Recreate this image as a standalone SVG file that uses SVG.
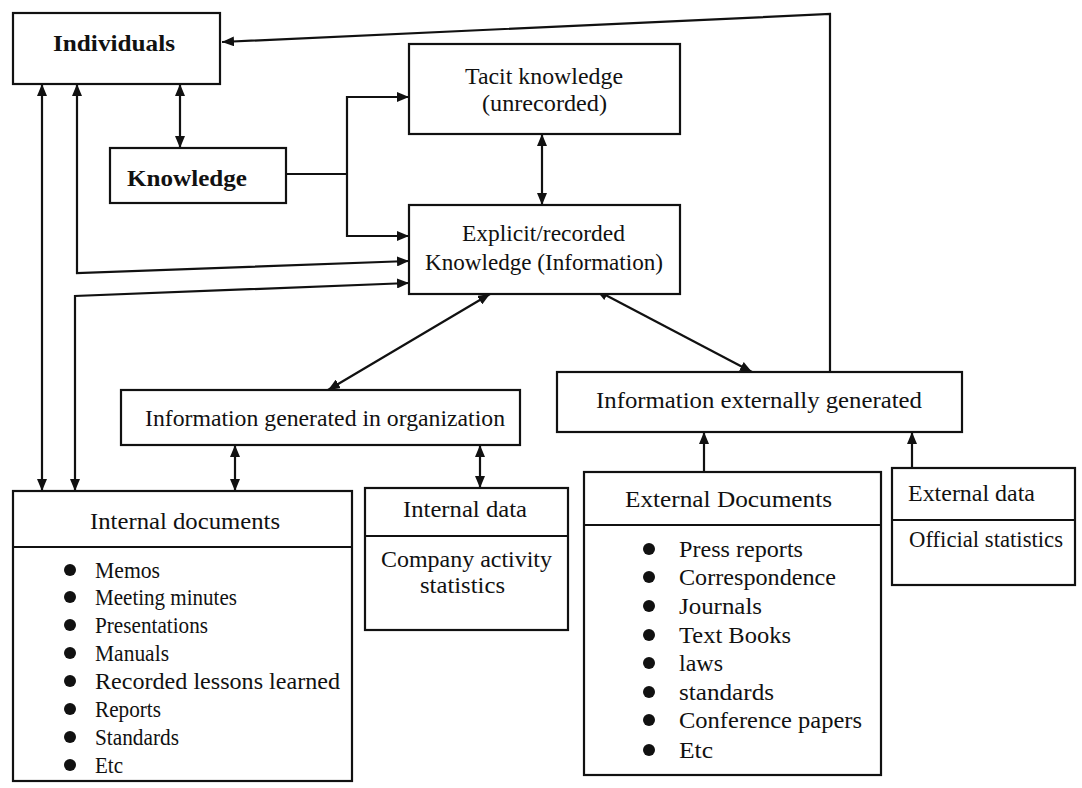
<svg xmlns="http://www.w3.org/2000/svg" width="1082" height="788" viewBox="0 0 1082 788">
<style>
.box{fill:#fff;stroke:#111;stroke-width:2.2}
.ln{fill:none;stroke:#111;stroke-width:2.2}
text{font-family:"Liberation Serif","DejaVu Serif",serif;font-size:23px;fill:#111}
.b{font-weight:bold}
.dot{fill:#111}
</style>
<defs>
<marker id="ah" viewBox="0 0 12 10" refX="12" refY="5" markerWidth="12" markerHeight="10" markerUnits="userSpaceOnUse" orient="auto-start-reverse">
<path d="M0,0 L12,5 L0,10 z" fill="#111"/>
</marker>
</defs>
<rect width="1082" height="788" fill="#fff"/>
<g id="connectors">
<path class="ln" d="M830,372 V14 L222,42" marker-end="url(#ah)"/>
<path class="ln" d="M180,84 V148" marker-start="url(#ah)" marker-end="url(#ah)"/>
<path class="ln" d="M542,134 V205" marker-start="url(#ah)" marker-end="url(#ah)"/>
<path class="ln" d="M286,174 H347"/>
<path class="ln" d="M409,97 H347 V236 H409" marker-start="url(#ah)" marker-end="url(#ah)"/>
<path class="ln" d="M42,84 V491" marker-start="url(#ah)" marker-end="url(#ah)"/>
<path class="ln" d="M77,84 V273 L409,261" marker-start="url(#ah)" marker-end="url(#ah)"/>
<path class="ln" d="M75,491 V296 L409,283" marker-start="url(#ah)" marker-end="url(#ah)"/>
<path class="ln" d="M490,294 L328,390" marker-start="url(#ah)" marker-end="url(#ah)"/>
<path class="ln" d="M596,290 L752,372" marker-start="url(#ah)" marker-end="url(#ah)"/>
<path class="ln" d="M235,445 V491" marker-start="url(#ah)" marker-end="url(#ah)"/>
<path class="ln" d="M480,445 V488" marker-start="url(#ah)" marker-end="url(#ah)"/>
<path class="ln" d="M704,472 V432" marker-end="url(#ah)"/>
<path class="ln" d="M912,468 V432" marker-end="url(#ah)"/>
</g>
<g id="individuals">
<rect class="box" x="13" y="13" width="207" height="71"/>
<text class="b" x="53" y="51" textLength="122" lengthAdjust="spacingAndGlyphs">Individuals</text>
</g>
<g id="knowledge">
<rect class="box" x="110" y="148" width="176" height="55"/>
<text class="b" x="127" y="186" textLength="120" lengthAdjust="spacingAndGlyphs">Knowledge</text>
</g>
<g id="tacit">
<rect class="box" x="409" y="44" width="271" height="90"/>
<text x="465" y="84" textLength="158" lengthAdjust="spacingAndGlyphs">Tacit knowledge</text>
<text x="482" y="111" textLength="125" lengthAdjust="spacingAndGlyphs">(unrecorded)</text>
</g>
<g id="explicit">
<rect class="box" x="409" y="205" width="271" height="89"/>
<text x="462" y="241" textLength="163" lengthAdjust="spacingAndGlyphs">Explicit/recorded</text>
<text x="425" y="270" textLength="238" lengthAdjust="spacingAndGlyphs">Knowledge (Information)</text>
</g>
<g id="info-org">
<rect class="box" x="121" y="390" width="399" height="55"/>
<text x="145" y="426" textLength="360" lengthAdjust="spacingAndGlyphs">Information generated in organization</text>
</g>
<g id="info-ext">
<rect class="box" x="557" y="372" width="405" height="60"/>
<text x="596" y="408" textLength="326" lengthAdjust="spacingAndGlyphs">Information externally generated</text>
</g>
<g id="internal-docs">
<rect class="box" x="13" y="491" width="339" height="290"/>
<line class="ln" x1="13" y1="547" x2="352" y2="547"/>
<text x="90" y="529" textLength="190" lengthAdjust="spacingAndGlyphs">Internal documents</text>
<circle class="dot" cx="70" cy="570" r="6"/><text x="95" y="578" textLength="65" lengthAdjust="spacingAndGlyphs">Memos</text>
<circle class="dot" cx="70" cy="597" r="6"/><text x="95" y="605" textLength="142" lengthAdjust="spacingAndGlyphs">Meeting minutes</text>
<circle class="dot" cx="70" cy="625" r="6"/><text x="95" y="633" textLength="113" lengthAdjust="spacingAndGlyphs">Presentations</text>
<circle class="dot" cx="70" cy="653" r="6"/><text x="95" y="661" textLength="74" lengthAdjust="spacingAndGlyphs">Manuals</text>
<circle class="dot" cx="70" cy="681" r="6"/><text x="95" y="689" textLength="245" lengthAdjust="spacingAndGlyphs">Recorded lessons learned</text>
<circle class="dot" cx="70" cy="709" r="6"/><text x="95" y="717" textLength="66" lengthAdjust="spacingAndGlyphs">Reports</text>
<circle class="dot" cx="70" cy="737" r="6"/><text x="95" y="745" textLength="84" lengthAdjust="spacingAndGlyphs">Standards</text>
<circle class="dot" cx="70" cy="765" r="6"/><text x="95" y="773" textLength="28" lengthAdjust="spacingAndGlyphs">Etc</text>
</g>
<g id="internal-data">
<rect class="box" x="365" y="488" width="203" height="142"/>
<line class="ln" x1="365" y1="536" x2="568" y2="536"/>
<text x="403" y="517" textLength="124" lengthAdjust="spacingAndGlyphs">Internal data</text>
<text x="381" y="567" textLength="171" lengthAdjust="spacingAndGlyphs">Company activity</text>
<text x="420" y="593" textLength="85" lengthAdjust="spacingAndGlyphs">statistics</text>
</g>
<g id="external-docs">
<rect class="box" x="584" y="472" width="297" height="303"/>
<line class="ln" x1="584" y1="525" x2="881" y2="525"/>
<text x="625" y="507" textLength="207" lengthAdjust="spacingAndGlyphs">External Documents</text>
<circle class="dot" cx="649" cy="549" r="6"/><text x="679" y="557" textLength="124" lengthAdjust="spacingAndGlyphs">Press reports</text>
<circle class="dot" cx="649" cy="577" r="6"/><text x="679" y="585" textLength="157" lengthAdjust="spacingAndGlyphs">Correspondence</text>
<circle class="dot" cx="649" cy="606" r="6"/><text x="679" y="614" textLength="83" lengthAdjust="spacingAndGlyphs">Journals</text>
<circle class="dot" cx="649" cy="635" r="6"/><text x="679" y="643" textLength="112" lengthAdjust="spacingAndGlyphs">Text Books</text>
<circle class="dot" cx="649" cy="663" r="6"/><text x="679" y="671" textLength="44" lengthAdjust="spacingAndGlyphs">laws</text>
<circle class="dot" cx="649" cy="692" r="6"/><text x="679" y="700" textLength="95" lengthAdjust="spacingAndGlyphs">standards</text>
<circle class="dot" cx="649" cy="720" r="6"/><text x="679" y="728" textLength="183" lengthAdjust="spacingAndGlyphs">Conference papers</text>
<circle class="dot" cx="649" cy="750" r="6"/><text x="679" y="758" textLength="34" lengthAdjust="spacingAndGlyphs">Etc</text>
</g>
<g id="external-data">
<rect class="box" x="892" y="468" width="183" height="117"/>
<line class="ln" x1="892" y1="520" x2="1075" y2="520"/>
<text x="908" y="501" textLength="127" lengthAdjust="spacingAndGlyphs">External data</text>
<text x="909" y="547" textLength="154" lengthAdjust="spacingAndGlyphs">Official statistics</text>
</g>
</svg>
